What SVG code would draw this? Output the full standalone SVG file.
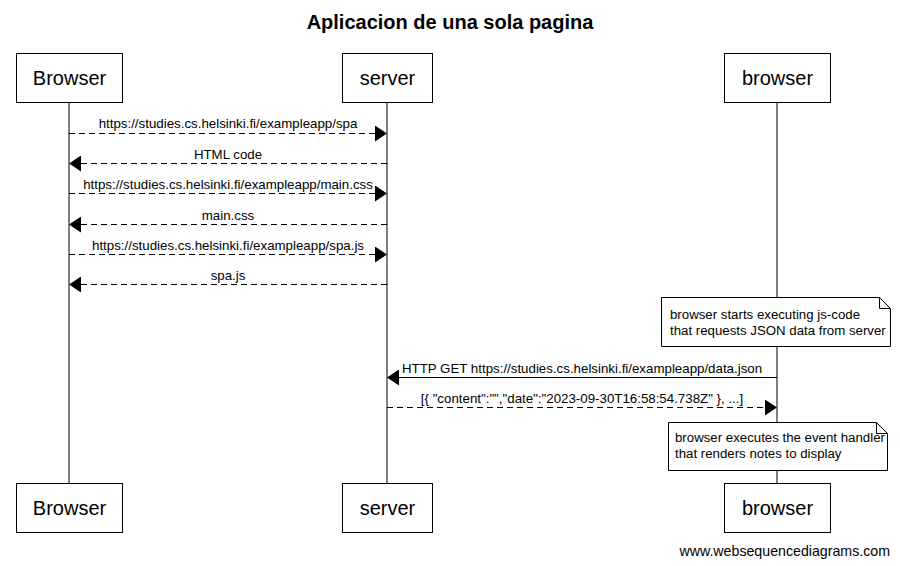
<svg xmlns="http://www.w3.org/2000/svg" width="900" height="566" viewBox="0 0 900 566">
<style>
text{font-family:"Liberation Sans",Arial,sans-serif;fill:#000}
.box{fill:#fff;stroke:#000;stroke-width:1}
.pl{font-size:20px;text-anchor:middle}
.life{stroke:#000;stroke-width:1}
.msg{stroke:#000;stroke-width:1;fill:none}
.dash{stroke-dasharray:6,4}
.ml{font-size:13.3px;text-anchor:middle}
.nt{font-size:13.25px}
.note{fill:#fff;stroke:#000;stroke-width:1}
</style>
<defs>
<marker id="ah" markerWidth="12" markerHeight="16" refX="12" refY="8" orient="auto" markerUnits="userSpaceOnUse">
<path d="M0,0 L12,8 L0,16 Z" fill="#000"/>
</marker>
</defs>
<rect width="900" height="566" fill="#fff"/>
<text x="450" y="29" font-size="20" font-weight="bold" text-anchor="middle">Aplicacion de una sola pagina</text>
<g id="lifelines">
<line class="life" x1="69" y1="102" x2="69" y2="484"/>
<line class="life" x1="387" y1="102" x2="387" y2="484"/>
<line class="life" x1="777" y1="102" x2="777" y2="484"/>
</g>
<g id="Browser">
<rect class="box" x="16.5" y="53.5" width="106" height="49"/>
<text class="pl" x="69.5" y="85">Browser</text>
<rect class="box" x="16.5" y="483.5" width="106" height="49"/>
<text class="pl" x="69.5" y="515">Browser</text>
</g>
<g id="server">
<rect class="box" x="342.5" y="53.5" width="90" height="49"/>
<text class="pl" x="387.5" y="85">server</text>
<rect class="box" x="342.5" y="483.5" width="90" height="49"/>
<text class="pl" x="387.5" y="515">server</text>
</g>
<g id="browser">
<rect class="box" x="724.5" y="53.5" width="106" height="49"/>
<text class="pl" x="777.5" y="85">browser</text>
<rect class="box" x="724.5" y="483.5" width="106" height="49"/>
<text class="pl" x="777.5" y="515">browser</text>
</g>
<g id="connectors">
<line class="msg dash" x1="69" y1="133.5" x2="387" y2="133.5" marker-end="url(#ah)"/>
<line class="msg dash" x1="387" y1="163.5" x2="69" y2="163.5" marker-end="url(#ah)"/>
<line class="msg dash" x1="69" y1="193.5" x2="387" y2="193.5" marker-end="url(#ah)"/>
<line class="msg dash" x1="387" y1="224.5" x2="69" y2="224.5" marker-end="url(#ah)"/>
<line class="msg dash" x1="69" y1="254.5" x2="387" y2="254.5" marker-end="url(#ah)"/>
<line class="msg dash" x1="387" y1="284.5" x2="69" y2="284.5" marker-end="url(#ah)"/>
<line class="msg" x1="777" y1="377.5" x2="387" y2="377.5" marker-end="url(#ah)"/>
<line class="msg dash" x1="387" y1="407.5" x2="777" y2="407.5" marker-end="url(#ah)"/>
</g>
<g id="labels">
<text class="ml" x="228" y="128">https://studies.cs.helsinki.fi/exampleapp/spa</text>
<text class="ml" x="228" y="159">HTML code</text>
<text class="ml" x="228" y="189">https://studies.cs.helsinki.fi/exampleapp/main.css</text>
<text class="ml" x="228" y="220">main.css</text>
<text class="ml" x="228" y="250">https://studies.cs.helsinki.fi/exampleapp/spa.js</text>
<text class="ml" x="228" y="280">spa.js</text>
<text class="ml" x="582" y="373">HTTP GET https://studies.cs.helsinki.fi/exampleapp/data.json</text>
<text class="ml" x="582" y="403">[{ "content":"","date":"2023-09-30T16:58:54.738Z" }, ...]</text>
</g>
<g id="note1">
<path class="note" d="M661.5,297.5 H879.5 L890.5,308.5 V346.5 H661.5 Z"/>
<path class="msg" d="M879.5,297.5 V308.5 H890.5"/>
<text class="nt" x="670" y="319">browser starts executing js-code</text>
<text class="nt" x="670" y="335">that requests JSON data from server</text>
</g>
<g id="note2">
<path class="note" d="M668.5,422.5 H876.5 L887.5,433.5 V470.5 H668.5 Z"/>
<path class="msg" d="M876.5,422.5 V433.5 H887.5"/>
<text class="nt" x="675" y="442">browser executes the event handler</text>
<text class="nt" x="675" y="458">that renders notes to display</text>
</g>
<text x="890" y="556" font-size="14.2" text-anchor="end">www.websequencediagrams.com</text>
</svg>
